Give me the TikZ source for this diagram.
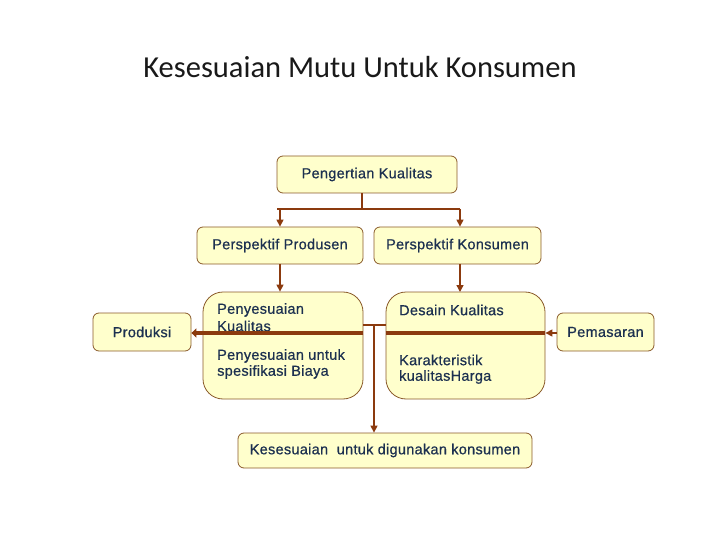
\documentclass[tikz,border=0pt]{standalone}
\usepackage{fontspec}
\setmainfont{Liberation Sans}
\newfontfamily\titlefont{Carlito}
\newfontfamily\boxfont[LetterSpace=2,BoldFont={Liberation Sans},BoldFeatures={FakeBold=0.6}]{Liberation Sans}
\usetikzlibrary{arrows.meta}
\definecolor{boxfill}{HTML}{FFFFCC}
\definecolor{boxdraw}{HTML}{8A5A2A}
\definecolor{conn}{HTML}{8B3A0E}
\definecolor{txt}{HTML}{1C3050}
\begin{document}
\begin{tikzpicture}[x=1pt,y=-1pt,
  box/.style={draw=boxdraw,fill=boxfill,line width=0.8pt,rounded corners=6pt,inner sep=0pt,
    text=txt,font=\boxfont\bfseries\fontsize{14.5}{16}\selectfont},
  bigbox/.style={box,rounded corners=20pt},
  lbl/.style={anchor=west,inner sep=0pt,text=txt,font=\boxfont\bfseries\fontsize{14.5}{16}\selectfont},
  thin/.style={draw=conn,line width=1.4pt},
  thick/.style={draw=conn,line width=4.5pt},
  tip/.style={-{Triangle[length=7pt,width=7pt]}}]
\useasboundingbox (0,0) rectangle (720,540);
\node[font=\titlefont\fontsize{30.5}{34}\selectfont,text=black!90] (title) at (360,67) {Kesesuaian Mutu Untuk Konsumen};
\node[box,minimum width=180pt,minimum height=37pt] (pk) at (367,174.5) {Pengertian Kualitas};
\node[box,minimum width=166pt,minimum height=37pt] (pp) at (280,245.5) {Perspektif Produsen};
\node[box,minimum width=167pt,minimum height=37pt] (pkon) at (457.5,245.5) {Perspektif Konsumen};
\node[box,minimum width=98pt,minimum height=38pt] (prod) at (142,332) {Produksi};
\node[box,minimum width=97pt,minimum height=38pt] (pem) at (605.5,332) {Pemasaran};
\node[bigbox,minimum width=160pt,minimum height=107pt] (lb) at (283,345.5) {};
\node[bigbox,minimum width=159pt,minimum height=107pt] (rb) at (465.5,345.5) {};
\node[box,minimum width=294pt,minimum height=35pt] (kk) at (385,450.5) {Kesesuaian\ \ untuk digunakan konsumen};
% texts in big boxes
\node[lbl] (l1) at (217,310) {Penyesuaian};
\node[lbl] (l2) at (217,326) {Kualitas};
\node[lbl] (l3) at (217,356) {Penyesuaian untuk};
\node[lbl] (l4) at (217,372) {spesifikasi Biaya};
\node[lbl] (r1) at (399,310) {Desain Kualitas};
\node[lbl] (r2) at (399,360) {Karakteristik};
\node[lbl] (r3) at (399,377) {kualitasHarga};
% connectors top
\coordinate (pkb) at (362,193);
\coordinate (hj) at (362,209);
\coordinate (hl) at (280,209);
\coordinate (hr) at (460,209);
\draw[thin] (pkb) -- (hj);
\draw[thin] (277,209) -- (hr);
\draw[thin,tip] (hl) -- (hl |- pp.north);
\draw[thin,tip] (hr) -- (hr |- pkon.north);
\draw[thin,tip] (pp.south) -- (pp.south |- lb.north);
\draw[thin,tip] (460,264) -- (460,292);
% thick bars
\draw[thick,-{Triangle[length=5pt,width=9pt]}] (lb.east |- 0,333) -- (prod.east |- 0,333);
\draw[thick] (rb.west |- 0,333) -- (rb.east |- 0,333);
\draw[thin,tip] (pem.west |- 0,333) -- (rb.east |- 0,333);
% middle connector
\draw[thin] (lb.east |- 0,325) -- (rb.west |- 0,325);
\coordinate (mj) at (374,325);
\draw[thin,tip] (mj) -- (mj |- kk.north);
\end{tikzpicture}
\end{document}
